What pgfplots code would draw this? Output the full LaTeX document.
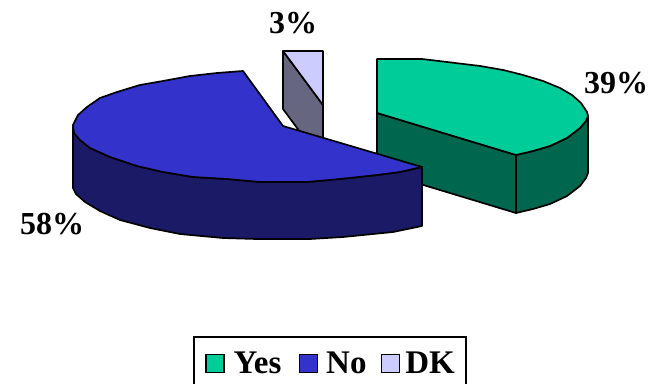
\documentclass[border=0pt]{standalone}
\usepackage{fontspec}
\setmainfont{Liberation Serif}
\usepackage{pgfplots}
\pgfplotsset{compat=1.18}
\definecolor{yesTop}{HTML}{00CC99}
\definecolor{yesSide}{HTML}{00664D}
\definecolor{noTop}{HTML}{3333CC}
\definecolor{noSide}{HTML}{1A1A66}
\definecolor{dkTop}{HTML}{CCCCFF}
\definecolor{dkSide}{HTML}{666680}
\begin{document}
\begin{tikzpicture}
\useasboundingbox (0,0) rectangle (653bp,384bp);
\clip (0,0) rectangle (653bp,384bp);
\begin{axis}[
  scale only axis, width=653bp, height=384bp,
  xmin=0, xmax=653, ymin=0, ymax=384, y dir=reverse,
  axis lines=none, ticks=none, clip=false,
  slice/.style={draw=black, line width=1.7bp, line join=round},
  legend columns=3,
  legend cell align=left,
  legend style={
    at={(axis cs:193,336)}, anchor=north west,
    draw=black, line width=1.7bp, fill=white,
    inner xsep=9bp, inner ysep=13bp,
    font=\fontsize{33bp}{34bp}\selectfont\bfseries,
    /tikz/column 1/.style={column sep=7bp},
    /tikz/column 2/.style={column sep=13bp},
    /tikz/column 3/.style={column sep=6bp},
    /tikz/column 4/.style={column sep=10bp},
    /tikz/column 5/.style={column sep=3bp},
  },
  legend image code/.code={
    \path[draw=none, fill=none] (0bp,0bp) -- (21bp,0bp);
    \draw[#1, line width=1.7bp] (3bp,-9bp) rectangle (21bp,9bp);
  },
]
% Legend keys
\addlegendimage{fill=yesTop, draw=black}
\addlegendentry{Yes}
\addlegendimage{fill=noTop, draw=black}
\addlegendentry{No}
\addlegendimage{fill=dkTop, draw=black}
\addlegendentry{DK}

% DK wedge, 3%
\addplot[slice, fill=dkSide, forget plot] coordinates {
  (283,51) (323,105) (323,163) (283,109)} --cycle;
\addplot[slice, fill=dkTop, forget plot] coordinates {
  (283,51) (323,51) (323,105)} --cycle;

% Yes wedge, 39%
\addplot[slice, fill=yesSide, forget plot] coordinates {
  (377,113) (516,155) (516,213) (377,171)} --cycle;
\addplot[slice, fill=yesSide, forget plot] coordinates {
  (516,155) (533,151) (550,146) (567,138) (580,128) (586,121) (588,116)
  (588,173) (586,178) (580,186) (567,196) (550,204) (533,209) (516,213)} --cycle;
\addplot[slice, fill=yesTop, forget plot] coordinates {
  (377,59) (422,59) (447,62) (480,66) (503,70) (523,75) (543,81)
  (560,88) (572,95) (581,103) (587,112) (588,116) (586,121) (580,128) (567,138) (550,146)
  (533,151) (516,155) (377,113)} --cycle;

% No wedge, 58%
\addplot[slice, fill=noSide, forget plot] coordinates {
  (73,125) (74,133) (80,140) (90,148) (110,157) (137,166) (163,172) (193,177)
  (227,179) (260,182) (307,182) (340,179) (377,175) (400,172) (422,167)
  (422,226) (393,232) (343,237) (310,239) (257,239) (223,238) (180,234)
  (150,228) (120,220) (100,211) (85,202) (76,194) (73,188)} --cycle;
\addplot[slice, fill=noTop, forget plot] coordinates {
  (243,71) (217,73) (190,76) (163,81) (140,85) (117,92) (100,98) (87,107)
  (78,115) (73,125) (74,133) (80,140) (90,148) (110,157) (137,166) (163,172)
  (193,177) (227,179) (260,182) (307,182) (340,179) (377,175) (400,172)
  (422,167) (283,126)} --cycle;

% Percentage labels
\node[anchor=base west, inner sep=0pt, font=\fontsize{32bp}{33bp}\selectfont\bfseries] at (axis cs:269,33) {3\%};
\node[anchor=base west, inner sep=0pt, font=\fontsize{32bp}{33bp}\selectfont\bfseries] at (axis cs:584,93) {39\%};
\node[anchor=base west, inner sep=0pt, font=\fontsize{32bp}{33bp}\selectfont\bfseries] at (axis cs:20,234) {58\%};
\end{axis}
\end{tikzpicture}
\end{document}
